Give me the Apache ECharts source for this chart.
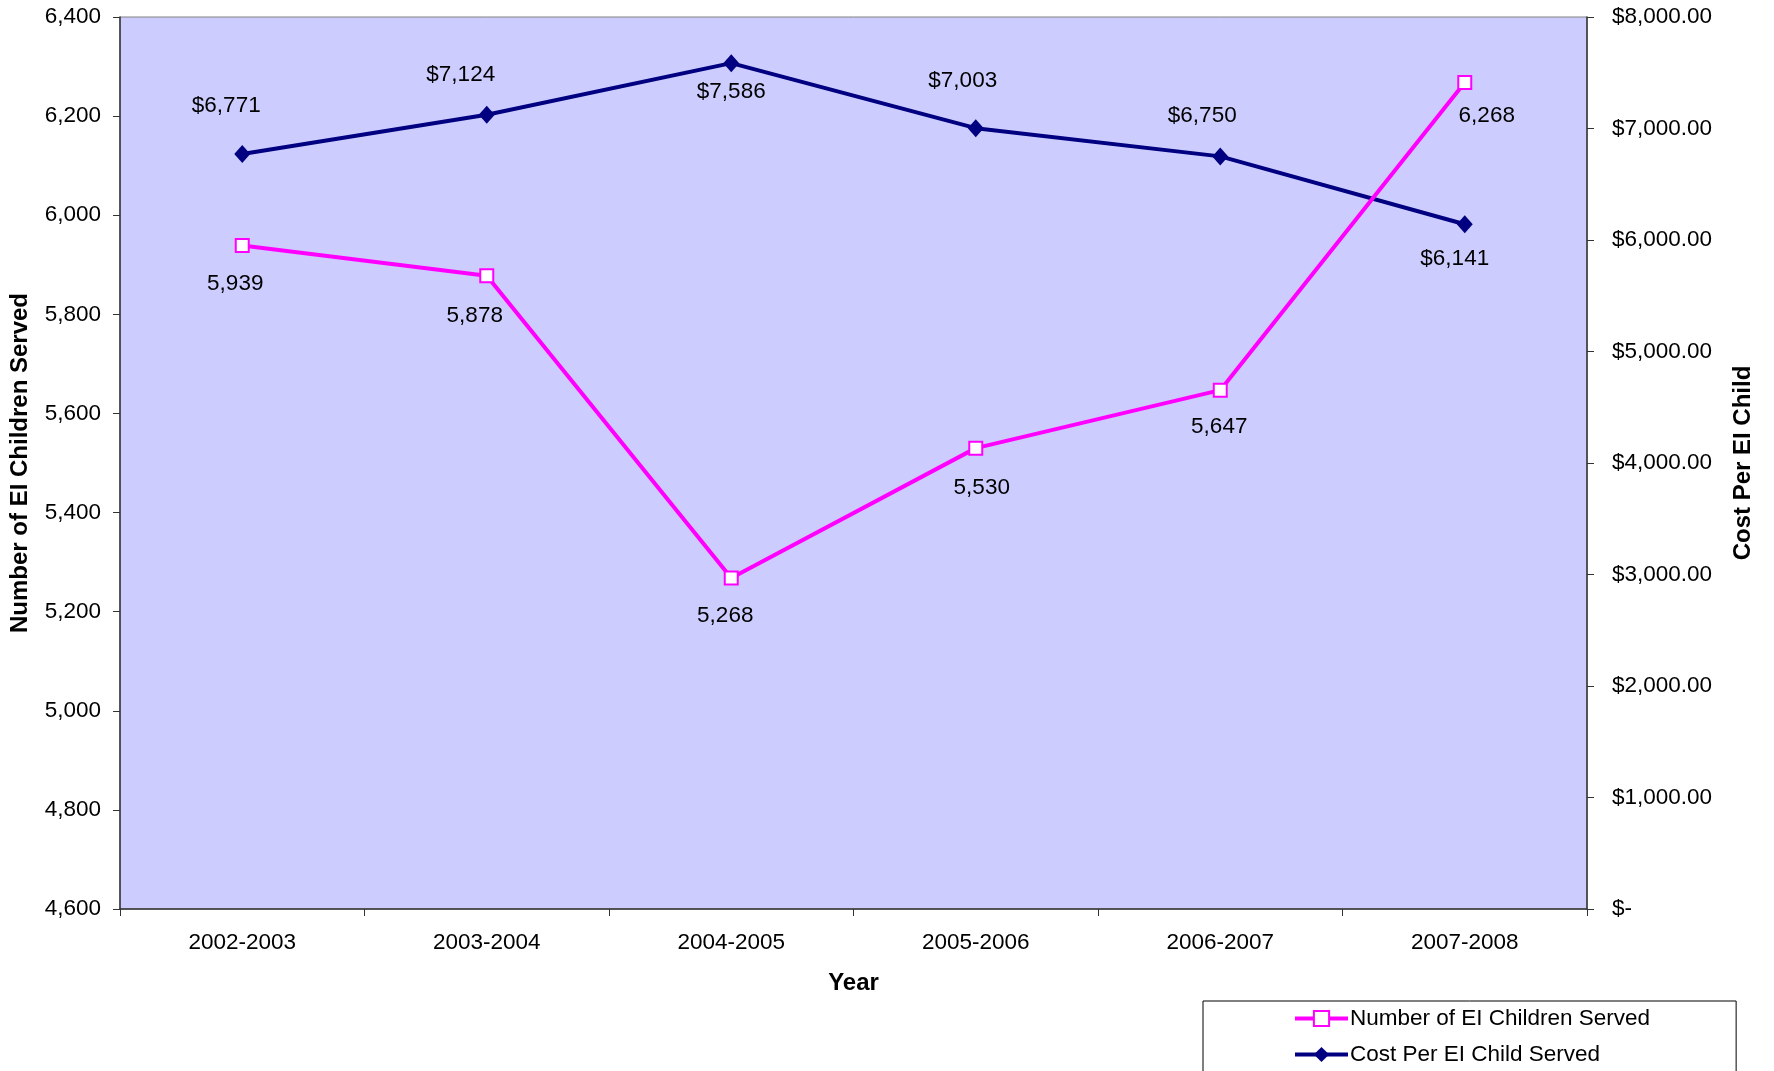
<!DOCTYPE html>
<html>
<head>
<meta charset="utf-8">
<script src="https://cdn.jsdelivr.net/npm/echarts@6/dist/echarts.min.js"></script>
<style>
html,body{margin:0;padding:0;background:#fff;}
#chart{width:1774px;height:1071px;}
</style>
</head>
<body>
<div id="chart"></div>
<script>
const years = ['2002-2003','2003-2004','2004-2005','2005-2006','2006-2007','2007-2008'];
const childrenServed = [5939, 5878, 5268, 5530, 5647, 6268];
const costPerChild = [6771, 7124, 7586, 7003, 6750, 6141];
const leftTicks = {min: 4600, max: 6400, interval: 200};
const rightTicks = {min: 0, max: 8000, interval: 1000};

// label offsets relative to the marker centre (presentation only)
const childrenLabelOffsets = [[-7,38],[-12,40],[-6,38],[6,40],[-1,37],[22,33]];
const costLabelOffsets = [[-16,-48],[-26,-40],[0,29],[-13,-47],[-18,-41],[-10,35]];

const FONT = '"Liberation Sans", Arial, sans-serif';
const FS = 22.5;
const TFS = 24;
const fmtInt = v => Math.round(v).toLocaleString('en-US');
const fmtMoney2 = v => v === 0 ? '$-' : '$' + v.toLocaleString('en-US', {minimumFractionDigits: 2, maximumFractionDigits: 2});

const chart = echarts.init(document.getElementById('chart'));
chart.setOption({
  animation: false,
  backgroundColor: '#fff',
  textStyle: {fontFamily: FONT},
  grid: {
    left: 119, right: 187, top: 17, bottom: 162,
    show: true, backgroundColor: '#CCCCFF', borderColor: '#808080', borderWidth: 1
  },
  legend: {
    orient: 'vertical',
    left: 1203, top: 1001,
    height: 160,
    padding: [6, 86, 40, 90],
    itemGap: 13,
    itemWidth: 53,
    itemHeight: 19,
    borderColor: '#000', borderWidth: 1, backgroundColor: '#fff',
    lineStyle: {width: 4},
    textStyle: {fontFamily: FONT, fontSize: FS, color: '#000', lineHeight: 22, padding: [0,0,0,-3]},
    data: ['Number of EI Children Served', 'Cost Per EI Child Served']
  },
  xAxis: {
    type: 'category',
    data: years,
    boundaryGap: true,
    name: 'Year',
    nameLocation: 'middle',
    nameGap: 62,
    nameTextStyle: {fontFamily: FONT, fontSize: TFS, fontWeight: 'bold', color: '#000'},
    axisLine: {lineStyle: {color: '#333', width: 1.5}},
    axisTick: {show: true, length: 7, lineStyle: {color: '#333'}},
    axisLabel: {fontFamily: FONT, fontSize: FS, color: '#000', margin: 22},
    splitLine: {show: false}
  },
  yAxis: [{
    type: 'value',
    position: 'left',
    min: leftTicks.min, max: leftTicks.max, interval: leftTicks.interval,
    name: 'Number of EI Children Served',
    nameLocation: 'middle',
    nameRotate: 90,
    nameGap: 88,
    nameTextStyle: {fontFamily: FONT, fontSize: TFS, fontWeight: 'bold', color: '#000'},
    axisLine: {show: true, lineStyle: {color: '#333', width: 1.5}},
    axisTick: {show: true, length: 7, lineStyle: {color: '#333'}},
    axisLabel: {fontFamily: FONT, fontSize: FS, color: '#000', margin: 19, formatter: fmtInt},
    splitLine: {show: false}
  }, {
    type: 'value',
    position: 'right',
    min: rightTicks.min, max: rightTicks.max, interval: rightTicks.interval,
    name: 'Cost Per EI Child',
    nameLocation: 'middle',
    nameRotate: 90,
    nameGap: 144,
    nameTextStyle: {fontFamily: FONT, fontSize: TFS, fontWeight: 'bold', color: '#000'},
    axisLine: {show: true, lineStyle: {color: '#333', width: 1.5}},
    axisTick: {show: true, length: 7, lineStyle: {color: '#333'}},
    axisLabel: {fontFamily: FONT, fontSize: FS, color: '#000', margin: 25, formatter: fmtMoney2},
    splitLine: {show: false}
  }],
  series: [{
    name: 'Number of EI Children Served',
    type: 'line',
    yAxisIndex: 0,
    data: childrenServed.map((v, i) => ({value: v, label: {offset: childrenLabelOffsets[i]}})),
    symbol: 'rect',
    symbolSize: 13,
    lineStyle: {color: '#FF00FF', width: 4},
    itemStyle: {color: '#FFFFFF', borderColor: '#FF00FF', borderWidth: 2},
    label: {show: true, position: 'inside', fontFamily: FONT, fontSize: FS, color: '#000', formatter: p => fmtInt(p.value)},
    z: 3
  }, {
    name: 'Cost Per EI Child Served',
    type: 'line',
    yAxisIndex: 1,
    data: costPerChild.map((v, i) => ({value: v, label: {offset: costLabelOffsets[i]}})),
    symbol: 'diamond',
    symbolSize: [16, 18],
    lineStyle: {color: '#000080', width: 4},
    itemStyle: {color: '#000080', borderColor: '#000080', borderWidth: 0},
    label: {show: true, position: 'inside', fontFamily: FONT, fontSize: FS, color: '#000', formatter: p => '$' + fmtInt(p.value)},
    z: 2
  }]
});
</script>
</body>
</html>
